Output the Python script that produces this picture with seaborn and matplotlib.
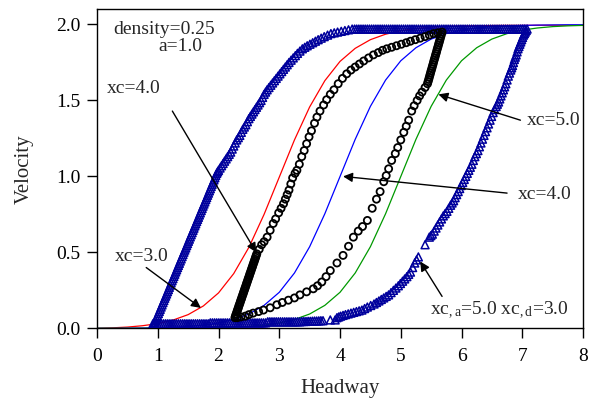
import numpy as np
import pandas as pd
import matplotlib
matplotlib.use("Agg")
import matplotlib.pyplot as plt
import seaborn as sns

# ---------------- data ----------------
headway_grid = [0.0, 0.25, 0.5, 0.75, 1.0, 1.25, 1.5, 1.75, 2.0, 2.25, 2.5, 2.75,
                3.0, 3.25, 3.5, 3.75, 4.0, 4.25, 4.5, 4.75, 5.0, 5.25, 5.5, 5.75,
                6.0, 6.25, 6.5, 6.75, 7.0, 7.25, 7.5, 7.75, 8.0]
ov_xc3 = [0.0, 0.003, 0.008, 0.017, 0.031, 0.054, 0.09, 0.147, 0.233, 0.36, 0.533, 0.75,
          0.995, 1.24, 1.457, 1.63, 1.757, 1.843, 1.9, 1.936, 1.959, 1.973, 1.982, 1.987,
          1.99, 1.992, 1.993, 1.994, 1.994, 1.995, 1.995, 1.995, 1.995]
ov_xc4 = [0.0, 0.0, 0.001, 0.002, 0.004, 0.007, 0.012, 0.021, 0.035, 0.058, 0.094, 0.151,
          0.237, 0.364, 0.537, 0.754, 0.999, 1.244, 1.461, 1.634, 1.761, 1.847, 1.904, 1.94,
          1.963, 1.977, 1.986, 1.991, 1.994, 1.996, 1.997, 1.998, 1.998]
ov_xc5 = [0.0, 0.0, 0.0, 0.0, 0.0, 0.0, 0.001, 0.002, 0.004, 0.007, 0.012, 0.021,
          0.035, 0.058, 0.094, 0.151, 0.237, 0.364, 0.537, 0.754, 0.999, 1.244, 1.461, 1.634,
          1.761, 1.847, 1.904, 1.94, 1.963, 1.977, 1.986, 1.991, 1.994]

# hysteresis loop xc,a=5.0 xc,d=3.0 (triangles)
tri_bottom_h = [0.92, 0.955, 0.99, 1.025, 1.06, 1.095, 1.13, 1.165, 1.2, 1.235, 1.27, 1.305,
                1.34, 1.375, 1.41, 1.445, 1.48, 1.515, 1.55, 1.585, 1.62, 1.655, 1.69, 1.725,
                1.76, 1.795, 1.83, 1.865, 1.9, 1.935, 1.97, 2.005, 2.04, 2.075, 2.11, 2.145,
                2.18, 2.215, 2.25, 2.285, 2.32, 2.355, 2.39, 2.425, 2.46, 2.495, 2.53, 2.565,
                2.6, 2.635, 2.67, 2.705, 2.74, 2.775, 2.81, 2.845, 2.88, 2.915, 2.95, 2.985,
                3.02, 3.055, 3.09, 3.125, 3.16, 3.195, 3.23, 3.265, 3.3, 3.335, 3.37, 3.405,
                3.44, 3.475, 3.51, 3.545, 3.58, 3.615, 3.65, 3.685, 3.72, 3.84, 3.92]
tri_bottom_v = [0.03, 0.03, 0.03, 0.03, 0.03, 0.03, 0.03, 0.03, 0.03, 0.03, 0.03, 0.03,
                0.03, 0.03, 0.03, 0.03, 0.03, 0.03, 0.03, 0.03, 0.03, 0.03, 0.03, 0.03,
                0.03, 0.03, 0.03, 0.036, 0.036, 0.036, 0.036, 0.036, 0.036, 0.036, 0.036,
                0.036, 0.036, 0.036, 0.036, 0.036, 0.036, 0.036, 0.036, 0.036, 0.036, 0.036,
                0.036, 0.036, 0.036, 0.036, 0.036, 0.036, 0.036, 0.036, 0.043, 0.043, 0.043,
                0.043, 0.043, 0.043, 0.043, 0.043, 0.043, 0.043, 0.043, 0.043, 0.043, 0.043,
                0.043, 0.043, 0.045, 0.045, 0.045, 0.046, 0.046, 0.047, 0.048, 0.048, 0.049,
                0.05, 0.05, 0.055, 0.055]
tri_left_h = [0.92, 0.935, 0.95, 0.965, 0.98, 0.995, 1.01, 1.025, 1.04, 1.055, 1.07, 1.085,
              1.1, 1.115, 1.13, 1.145, 1.16, 1.175, 1.19, 1.205, 1.22, 1.235, 1.25, 1.265,
              1.28, 1.295, 1.31, 1.325, 1.34, 1.355, 1.37, 1.385, 1.4, 1.415, 1.43, 1.445,
              1.46, 1.475, 1.49, 1.505, 1.52, 1.535, 1.55, 1.565, 1.58, 1.595, 1.61, 1.625,
              1.64, 1.655, 1.67, 1.685, 1.7, 1.715, 1.73, 1.745, 1.76, 1.775, 1.79, 1.805,
              1.82, 1.835, 1.85, 1.865, 1.88, 1.895, 1.91, 1.925, 1.94, 1.955, 1.97, 1.985,
              2.0, 2.025, 2.05, 2.075, 2.1, 2.125, 2.15, 2.175, 2.2, 2.225, 2.25, 2.275,
              2.3, 2.325, 2.35, 2.375, 2.4, 2.425, 2.45, 2.475, 2.5, 2.525, 2.55, 2.575,
              2.6, 2.625, 2.65, 2.675, 2.7, 2.725, 2.75, 2.775, 2.8, 2.83, 2.86, 2.89,
              2.92, 2.95, 2.98, 3.01, 3.04, 3.07, 3.1, 3.13, 3.16, 3.195, 3.23, 3.265,
              3.3, 3.34, 3.38, 3.42, 3.46, 3.505, 3.55, 3.595, 3.64, 3.69, 3.74, 3.795,
              3.85, 3.905, 3.96, 4.02, 4.08, 4.14, 4.2]
tri_left_v = [0.01, 0.024, 0.039, 0.053, 0.068, 0.082, 0.097, 0.111, 0.125, 0.14, 0.154,
              0.169, 0.183, 0.198, 0.212, 0.226, 0.241, 0.255, 0.27, 0.284, 0.299, 0.313,
              0.327, 0.342, 0.356, 0.371, 0.385, 0.4, 0.414, 0.428, 0.443, 0.457, 0.472,
              0.486, 0.501, 0.515, 0.529, 0.544, 0.558, 0.573, 0.587, 0.602, 0.616, 0.63,
              0.645, 0.659, 0.674, 0.688, 0.703, 0.717, 0.731, 0.746, 0.76, 0.775, 0.789,
              0.804, 0.818, 0.832, 0.847, 0.861, 0.876, 0.89, 0.905, 0.919, 0.934, 0.948,
              0.962, 0.977, 0.991, 1.006, 1.02, 1.03,
              1.04, 1.055, 1.07, 1.085, 1.1, 1.115, 1.13, 1.145, 1.16, 1.18, 1.2, 1.22,
              1.24, 1.255, 1.27, 1.29, 1.31, 1.325, 1.34, 1.36, 1.38, 1.395, 1.41, 1.425,
              1.44, 1.455, 1.47, 1.485, 1.5, 1.52, 1.54, 1.555, 1.57, 1.585, 1.6, 1.615,
              1.63, 1.645, 1.66, 1.675, 1.69, 1.705, 1.72, 1.735, 1.75, 1.765, 1.78, 1.795,
              1.81, 1.825, 1.84, 1.85, 1.86, 1.87, 1.88, 1.89, 1.9, 1.91, 1.92, 1.93,
              1.94, 1.945, 1.95, 1.955, 1.96, 1.965, 1.97]
tri_top_h = [4.24, 4.275, 4.31, 4.345, 4.38, 4.415, 4.45, 4.485, 4.52, 4.555, 4.59, 4.625,
             4.66, 4.695, 4.73, 4.765, 4.8, 4.835, 4.87, 4.905, 4.94, 4.975, 5.01, 5.045,
             5.08, 5.115, 5.15, 5.185, 5.22, 5.255, 5.29, 5.325, 5.36, 5.395, 5.43, 5.465,
             5.5, 5.535, 5.57, 5.605, 5.64, 5.675, 5.71, 5.745, 5.78, 5.815, 5.85, 5.885,
             5.92, 5.955, 5.99, 6.025, 6.06, 6.095, 6.13, 6.165, 6.2, 6.235, 6.27, 6.305,
             6.34, 6.375, 6.41, 6.445, 6.48, 6.515, 6.55, 6.585, 6.62, 6.655, 6.69, 6.725,
             6.76, 6.795, 6.83, 6.865, 6.9, 6.935, 6.97, 7.005, 7.04]
tri_top_v = [1.97] * 81
tri_right_h = [7.08, 7.065, 7.05, 7.035, 7.02, 7.005, 6.99, 6.975, 6.96, 6.945, 6.93, 6.915,
               6.9, 6.885, 6.87, 6.855, 6.84, 6.825, 6.81, 6.79, 6.77, 6.75, 6.73, 6.71,
               6.69, 6.67, 6.65, 6.63, 6.61, 6.59, 6.57, 6.545, 6.52, 6.495, 6.47, 6.445,
               6.42, 6.395, 6.37, 6.345, 6.32, 6.295, 6.27, 6.245, 6.22, 6.195, 6.17, 6.145,
               6.12, 6.095, 6.07, 6.045, 6.02, 5.995, 5.97, 5.945, 5.92, 5.895, 5.87, 5.845,
               5.82, 5.79, 5.76, 5.73, 5.7, 5.67, 5.64, 5.61, 5.58, 5.55, 5.52, 5.495, 5.47,
               5.4,
               5.29, 5.26, 5.23, 5.195, 5.16, 5.13, 5.1, 5.065, 5.03, 4.995, 4.96, 4.92,
               4.88, 4.84, 4.8, 4.76, 4.72, 4.68, 4.64, 4.6, 4.56, 4.505, 4.45, 4.405, 4.36,
               4.315, 4.27, 4.225, 4.18, 4.135, 4.09, 4.05, 4.01, 3.98, 3.95]
tri_right_v = [1.97, 1.96, 1.95, 1.94, 1.93, 1.915, 1.9, 1.885, 1.87, 1.855, 1.84, 1.82,
               1.8, 1.785, 1.77, 1.75, 1.73, 1.715, 1.7, 1.68, 1.66, 1.635, 1.61, 1.59,
               1.57, 1.55, 1.53, 1.51, 1.49, 1.475, 1.46, 1.44, 1.42, 1.395, 1.37, 1.345,
               1.32, 1.295, 1.27, 1.245, 1.22, 1.195, 1.17, 1.15, 1.13, 1.105, 1.08, 1.06,
               1.04, 1.02, 1.0, 0.98, 0.96, 0.94, 0.92, 0.9, 0.88, 0.86, 0.84, 0.825,
               0.81, 0.79, 0.77, 0.755, 0.74, 0.72, 0.7, 0.68, 0.66, 0.64, 0.62, 0.61, 0.6,
               0.55,
               0.47, 0.45, 0.43, 0.4, 0.37, 0.355, 0.34, 0.325, 0.31, 0.295, 0.28, 0.265,
               0.25, 0.235, 0.22, 0.21, 0.2, 0.19, 0.18, 0.17, 0.16, 0.15, 0.14, 0.13, 0.12,
               0.115, 0.11, 0.105, 0.1, 0.095, 0.09, 0.085, 0.08, 0.075, 0.07]

# hysteresis loop xc=4.0 (circles)
circ_up_h = [2.27, 2.28, 2.29, 2.3, 2.31, 2.32, 2.33, 2.34, 2.35, 2.36, 2.37, 2.38, 2.39,
             2.4, 2.41, 2.42, 2.43, 2.44, 2.45, 2.46, 2.47, 2.48, 2.49, 2.5, 2.51, 2.52,
             2.53, 2.54, 2.55, 2.56, 2.57, 2.58, 2.59, 2.6, 2.61, 2.62, 2.63,
             2.67, 2.71, 2.75, 2.8, 2.85, 2.9, 2.94, 2.99, 3.03, 3.07, 3.1, 3.13, 3.16,
             3.19, 3.22, 3.26, 3.29, 3.33, 3.37, 3.41, 3.45, 3.49, 3.53, 3.58, 3.62, 3.67,
             3.73, 3.78, 3.84, 3.9, 3.97, 4.04, 4.11, 4.18, 4.25, 4.32, 4.39, 4.47, 4.55,
             4.63, 4.7, 4.77, 4.85, 4.93, 5.01, 5.09, 5.16, 5.24, 5.32, 5.4, 5.47, 5.54,
             5.61, 5.68]
circ_up_v = [0.07, 0.082, 0.093, 0.105, 0.117, 0.128, 0.14, 0.152, 0.163, 0.175, 0.187,
             0.198, 0.21, 0.222, 0.233, 0.245, 0.257, 0.268, 0.28, 0.292, 0.303, 0.315,
             0.327, 0.338, 0.35, 0.362, 0.373, 0.385, 0.397, 0.408, 0.42, 0.432, 0.443,
             0.455, 0.467, 0.478, 0.49,
             0.52, 0.55, 0.57, 0.6, 0.645, 0.69, 0.72, 0.76, 0.79, 0.82, 0.85, 0.88, 0.91,
             0.95, 0.99, 1.02, 1.04, 1.08, 1.13, 1.17, 1.215, 1.26, 1.3, 1.35, 1.39, 1.43,
             1.47, 1.505, 1.54, 1.57, 1.61, 1.645, 1.675, 1.7, 1.72, 1.74, 1.76, 1.78, 1.8,
             1.815, 1.83, 1.84, 1.85, 1.86, 1.87, 1.88, 1.89, 1.9, 1.91, 1.92, 1.93, 1.94,
             1.945, 1.95]
circ_down_h = [5.67, 5.66, 5.65, 5.64, 5.63, 5.62, 5.61, 5.6, 5.59, 5.58, 5.57, 5.56, 5.55,
               5.54, 5.53, 5.52, 5.51, 5.5, 5.49, 5.48, 5.47, 5.46, 5.45, 5.44,
               5.4, 5.35, 5.31, 5.27, 5.22, 5.18, 5.13, 5.09, 5.05, 5.0, 4.95, 4.91, 4.85,
               4.8, 4.76, 4.72, 4.66, 4.6, 4.53, 4.45, 4.37, 4.3, 4.22, 4.14, 4.05, 3.95,
               3.84, 3.77, 3.7, 3.63, 3.56, 3.45, 3.34, 3.25, 3.15, 3.05, 2.96, 2.85, 2.74,
               2.66, 2.57, 2.5, 2.44, 2.37, 2.31]
circ_down_v = [1.936, 1.922, 1.907, 1.893, 1.879, 1.865, 1.851, 1.837, 1.822, 1.808, 1.794,
               1.78, 1.766, 1.752, 1.737, 1.723, 1.709, 1.695, 1.681, 1.667, 1.652, 1.638,
               1.624, 1.61,
               1.585, 1.555, 1.53, 1.5, 1.465, 1.43, 1.37, 1.33, 1.29, 1.24, 1.19, 1.15,
               1.105, 1.05, 1.005, 0.965, 0.9, 0.85, 0.79, 0.71, 0.67, 0.64, 0.6, 0.54,
               0.48, 0.43, 0.38, 0.34, 0.305, 0.28, 0.26, 0.24, 0.22, 0.2, 0.185, 0.17,
               0.155, 0.135, 0.12, 0.11, 0.1, 0.09, 0.08, 0.075, 0.07]

x_ticks = [0, 1, 2, 3, 4, 5, 6, 7, 8]
y_ticks = [0.0, 0.5, 1.0, 1.5, 2.0]
y_tick_labels = ["0.0", "0.5", "1.0", "1.5", "2.0"]

# ---------------- styling ----------------
sns.set_style("ticks")
plt.rcParams["font.family"] = ["Liberation Serif", "DejaVu Serif"]
plt.rcParams["mathtext.fontset"] = "custom"
plt.rcParams["mathtext.rm"] = "Liberation Serif"
plt.rcParams["mathtext.it"] = "Liberation Serif"

fig = plt.figure(figsize=(5.92, 3.99), dpi=100)
ax = fig.add_axes([0.1639, 0.1772, 0.8209, 0.7995])

curves = pd.DataFrame({"h": headway_grid, "c3": ov_xc3, "c4": ov_xc4, "c5": ov_xc5})
sns.lineplot(data=curves, x="h", y="c3", color="#ff0000", lw=0.9, ax=ax, zorder=2)
sns.lineplot(data=curves, x="h", y="c4", color="#0000ff", lw=0.9, ax=ax, zorder=2)
sns.lineplot(data=curves, x="h", y="c5", color="#009900", lw=0.9, ax=ax, zorder=2)

tri = pd.DataFrame({
    "h": tri_bottom_h + tri_left_h + tri_top_h + tri_right_h,
    "v": tri_bottom_v + tri_left_v + tri_top_v + tri_right_v,
})
sns.scatterplot(data=tri, x="h", y="v", marker="^", s=32, facecolors="none",
                edgecolor="#00009c", linewidth=1.1, ax=ax, zorder=3)

circ = pd.DataFrame({"h": circ_up_h + circ_down_h, "v": circ_up_v + circ_down_v})
sns.scatterplot(data=circ, x="h", y="v", marker="o", s=26, facecolors="none",
                edgecolor="black", linewidth=1.3, ax=ax, zorder=4)

ax.set_xlim(0, 8)
ax.set_ylim(0, 2.1)
ax.set_xticks(x_ticks)
ax.set_yticks(y_ticks)
ax.set_yticklabels(y_tick_labels)
ax.tick_params(direction="out", length=7, width=1, labelsize=14, colors="black")
ax.tick_params(axis="x", pad=7)
ax.tick_params(axis="y", pad=5)
for sp in ax.spines.values():
    sp.set_visible(True)
    sp.set_linewidth(1.0)
    sp.set_color("black")
ax.set_xlabel("Headway", fontsize=15, labelpad=10)
ax.set_ylabel("Velocity", fontsize=15, labelpad=16)

fs = 14
ax.text(1.11, 1.97, "density=0.25", fontsize=fs, ha="center", va="center")
ax.text(1.38, 1.855, "a=1.0", fontsize=fs, ha="center", va="center")

arrow = dict(arrowstyle="-|>", color="black", lw=1.0, mutation_scale=14,
             shrinkA=0, shrinkB=0)
ax.annotate("", xy=(2.62, 0.5), xytext=(1.24, 1.43), arrowprops=arrow, zorder=6)
ax.text(0.6, 1.58, "xc=4.0", fontsize=fs, ha="center", va="center")

ax.annotate("", xy=(1.71, 0.134), xytext=(0.81, 0.40), arrowprops=arrow, zorder=6)
ax.text(0.74, 0.47, "xc=3.0", fontsize=fs, ha="center", va="center")

ax.annotate("", xy=(5.62, 1.54), xytext=(6.97, 1.37), arrowprops=arrow, zorder=6)
ax.text(7.51, 1.37, "xc=5.0", fontsize=fs, ha="center", va="center")

ax.annotate("", xy=(4.05, 1.0), xytext=(6.75, 0.89), arrowprops=arrow, zorder=6)
ax.text(7.37, 0.88, "xc=4.0", fontsize=fs, ha="center", va="center")

ax.annotate("", xy=(5.32, 0.44), xytext=(5.68, 0.21), arrowprops=arrow, zorder=6)
ax.text(6.62, 0.12, r"xc$_{\mathrm{,a}}$=5.0 xc$_{\mathrm{,d}}$=3.0", fontsize=fs,
        ha="center", va="center")

fig.savefig("out.png", dpi=100)
